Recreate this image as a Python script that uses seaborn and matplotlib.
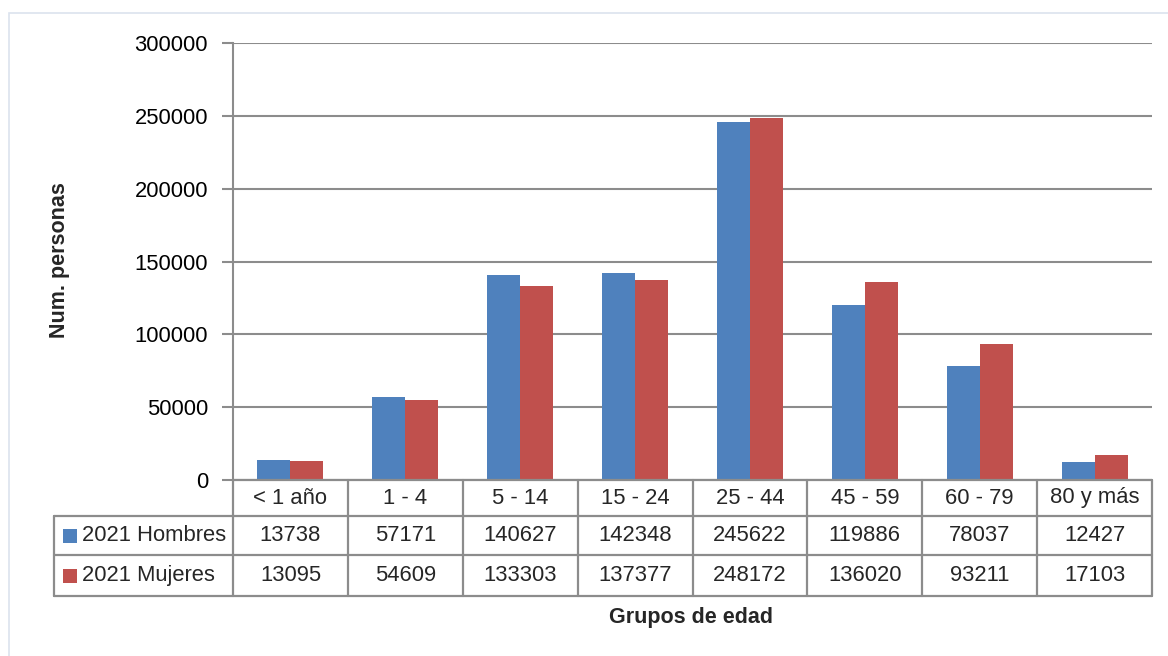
import matplotlib
matplotlib.use("Agg")
import matplotlib.pyplot as plt
import seaborn as sns
import pandas as pd
from matplotlib.lines import Line2D
from matplotlib.patches import Rectangle
from matplotlib.transforms import blended_transform_factory

categories = ["< 1 año", "1 - 4", "5 - 14", "15 - 24", "25 - 44", "45 - 59", "60 - 79", "80 y más"]
series_names = ["2021 Hombres", "2021 Mujeres"]
hombres = [13738, 57171, 140627, 142348, 245622, 119886, 78037, 12427]
mujeres = [13095, 54609, 133303, 137377, 248172, 136020, 93211, 17103]
yticks = [0, 50000, 100000, 150000, 200000, 250000, 300000]
colors = ["#4F81BD", "#C0504D"]

df = pd.DataFrame({
    "grupo": categories * 2,
    "serie": [series_names[0]] * len(categories) + [series_names[1]] * len(categories),
    "valor": hombres + mujeres,
})

sns.set_theme(style="white")
plt.rcParams["font.family"] = ["Liberation Sans", "DejaVu Sans"]
fs = 15.8
fs_title = 15.5

W, H = 1168, 656
fig = plt.figure(figsize=(W / 100, H / 100), dpi=100)
L, R, T, B = 233, 1152, 43, 480
ax = fig.add_axes([L / W, 1 - B / H, (R - L) / W, (B - T) / H])

sns.barplot(data=df, x="grupo", y="valor", hue="serie", order=categories,
            hue_order=series_names, palette=colors, width=0.574, gap=0,
            saturation=1, ax=ax, legend=False, edgecolor="none")
for p in ax.patches:
    p.set_zorder(3)

grid_c = "#8C8C8C"
ax.set_ylim(0, 300000)
ax.set_xlim(-0.5, len(categories) - 0.5)
ax.set_yticks(yticks)
ax.set_yticklabels([str(v) for v in yticks], fontsize=fs, color="black")
ax.set_xticks([])
ax.set_xlabel("")
ax.set_ylabel("")
ax.yaxis.grid(True, color=grid_c, linewidth=1.5, zorder=0)
ax.set_axisbelow(True)
for s in ["top", "right", "bottom"]:
    ax.spines[s].set_visible(False)
ax.spines["left"].set_color(grid_c)
ax.spines["left"].set_linewidth(1.5)
ax.tick_params(axis="y", direction="out", length=8, width=1.5, color=grid_c, pad=10, left=True)

# outer frame
fig.add_artist(Rectangle((9 / W, -0.1), 1.1, 1 - 13 / H + 0.1, transform=fig.transFigure,
                         fill=False, edgecolor="#DCE3EE", linewidth=1.2))

def fx(px):
    return px / W

def fy(py):
    return 1 - py / H

rows_y = [480, 516, 555, 596]
tl = 54
lw = 1.6
fig.add_artist(Line2D([fx(L), fx(R)], [fy(rows_y[0])] * 2, color=grid_c, lw=lw))
for yy in rows_y[1:]:
    fig.add_artist(Line2D([fx(tl), fx(R)], [fy(yy)] * 2, color=grid_c, lw=lw))
colw = (R - L) / len(categories)
for i in range(len(categories) + 1):
    xx = L + i * colw
    fig.add_artist(Line2D([fx(xx)] * 2, [fy(rows_y[0]), fy(rows_y[3])], color=grid_c, lw=lw))
fig.add_artist(Line2D([fx(tl)] * 2, [fy(rows_y[1]), fy(rows_y[3])], color=grid_c, lw=lw))

tr = blended_transform_factory(ax.transData, fig.transFigure)
for i, c in enumerate(categories):
    ax.text(i, fy((rows_y[0] + rows_y[1]) / 2), c, transform=tr, ha="center", va="center",
            fontsize=fs, clip_on=False)
    ax.text(i, fy((rows_y[1] + rows_y[2]) / 2), str(hombres[i]), transform=tr, ha="center",
            va="center", fontsize=fs, clip_on=False)
    ax.text(i, fy((rows_y[2] + rows_y[3]) / 2), str(mujeres[i]), transform=tr, ha="center",
            va="center", fontsize=fs, clip_on=False)

for k, name in enumerate(series_names):
    yc = (rows_y[k + 1] + rows_y[k + 2]) / 2
    fig.add_artist(Rectangle((fx(63), fy(yc + 7)), 14 / W, 14 / H, transform=fig.transFigure,
                             facecolor=colors[k], edgecolor="none"))
    fig.text(fx(82), fy(yc), name, ha="left", va="center", fontsize=fs)

fig.text(fx(60), fy(260), "Num. personas", rotation=90, ha="center", va="center",
         fontsize=fs_title, fontweight="bold")
fig.text(fx(691), fy(617), "Grupos de edad", ha="center", va="center",
         fontsize=fs_title, fontweight="bold")

fig.savefig("out.png", dpi=100, facecolor="white")
